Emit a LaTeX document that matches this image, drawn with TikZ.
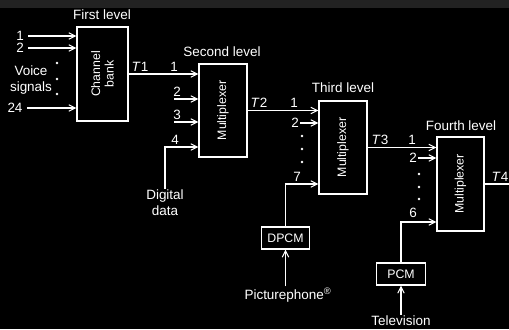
\documentclass[tikz,border=0pt]{standalone}
\usepackage{fontspec}
\setmainfont{Liberation Sans}
\usepackage{xcolor}
\usetikzlibrary{arrows.meta, positioning}
\definecolor{strip}{RGB}{34,34,34}

\begin{document}
\begin{tikzpicture}[
    x=0.03cm, y=-0.03cm,
    every node/.style={font=\fontsize{11.5}{13.5}\selectfont, text=white, inner sep=1pt},
    box/.style={draw=white, line width=0.9pt, minimum width=1.44cm, minimum height=2.79cm, inner sep=0pt},
    smallbox/.style={draw=white, line width=0.9pt, minimum width=1.46cm, minimum height=0.66cm, inner sep=0pt, font=\fontsize{10.5}{12}\selectfont},
    boxtext/.style={rotate=90, align=center, font=\fontsize{10.5}{11.5}\selectfont},
    wire/.style={draw=white, line width=0.9pt},
    feed/.style={wire, -{Straight Barb[length=5.5pt, width=5.5pt]}},
    dot/.style={circle, fill=white, inner sep=0pt, minimum size=2.5pt}
]
% page and grey strip at the top
\fill[black] (0,0) rectangle (509,329);
\fill[strip] (0,0) rectangle (509,7.5);
\useasboundingbox (0,0) rectangle (509,329);

% boxes
\node[box, minimum width=1.53cm, minimum height=2.82cm] (bank) at (102.5,74) {};
\node[boxtext] (banktxt) at (bank) {Channel\\bank};
\node[box] (mux2) at (223,110.5) {};
\node[boxtext] (mux2txt) at (mux2) {Multiplexer};
\node[box] (mux3) at (343,147.5) {};
\node[boxtext] (mux3txt) at (mux3) {Multiplexer};
\node[box, minimum width=1.41cm, minimum height=2.82cm] (mux4) at (460.5,184) {};
\node[boxtext] (mux4txt) at (mux4) {Multiplexer};
\node[smallbox] (dpcm) at (285.5,238) {DPCM};
\node[smallbox] (pcm) at (401,274) {PCM};

% level titles
\node (lev1) at (102,15) {First level};
\node (lev2) at (222,52) {Second level};
\node (lev3) at (343,88) {Third level};
\node (lev4) at (461,126) {Fourth level};

% first level: voice channels
\node[inner sep=0pt] (v1) at (20,36) {1};
\node[inner sep=0pt] (v2) at (20,48) {2};
\node[inner sep=0pt] (v24) at (15,108) {24};
\foreach \k in {v1,v2,v24}
  \draw[feed] ([xshift=0.13cm]\k.east) -- (\k.east -| bank.west);
\node[align=center] (voice) at (31,80) {Voice\\signals};
\foreach \y in {63,79,94}
  \node[dot] (vd\y) at (57,\y) {};

% second level
\node (t1) at (140,67) {\textit{T}1};
\node (m2n1) at (174,67) {1};
\draw[feed] (bank.east) -- (bank.east -| mux2.west);
\foreach \k/\y in {2/99,3/122} {
  \coordinate (m2in\k) at (174,\y);
  \node (m2n\k) at (177,\y-7) {\k};
  \draw[feed] (m2in\k) -- (m2in\k -| mux2.west);
}
\node (m2n4) at (175,140) {4};
\node[align=center] (dig) at (165,203) {Digital\\data};
\draw[feed] (dig.north) |- (mux2.west |- 0,147);

% third level
\node (t2) at (259,103) {\textit{T}2};
\node (m3n1) at (294,103) {1};
\draw[feed] (mux2.east) -- (mux2.east -| mux3.west);
\node (m3n2) at (295,123) {2};
\draw[feed] (m3n2.east) -- (m3n2.east -| mux3.west);
\foreach \y in {136,149,162}
  \node[dot] (d3\y) at (302,\y) {};
\node (m3n7) at (297,177) {7};
\draw[feed] (dpcm.north) |- (mux3.west |- 0,184);
\node (pp) at (288,295) {Picturephone\textsuperscript{\textregistered}};
\draw[feed] (pp.north -| dpcm) -- (dpcm.south);

% fourth level
\node (t3) at (380,140) {\textit{T}3};
\node (m4n1) at (412,140) {1};
\draw[feed] (mux3.east) -- (mux3.east -| mux4.west);
\node (m4n2) at (413,158) {2};
\draw[feed] (m4n2.east) -- (m4n2.east -| mux4.west);
\foreach \y in {174,187,199}
  \node[dot] (d4\y) at (419,\y) {};
\node (m4n6) at (413,213) {6};
\draw[feed] (pcm.north) |- (mux4.west |- 0,222);
\node (tv) at (401,321) {Television};
\draw[feed] (tv.north) -- (pcm.south);

% output
\node (t4) at (500,177) {\textit{T}4};
\coordinate (out) at (509,184);
\draw[wire] (mux4.east) -- (out);
\end{tikzpicture}
\end{document}
